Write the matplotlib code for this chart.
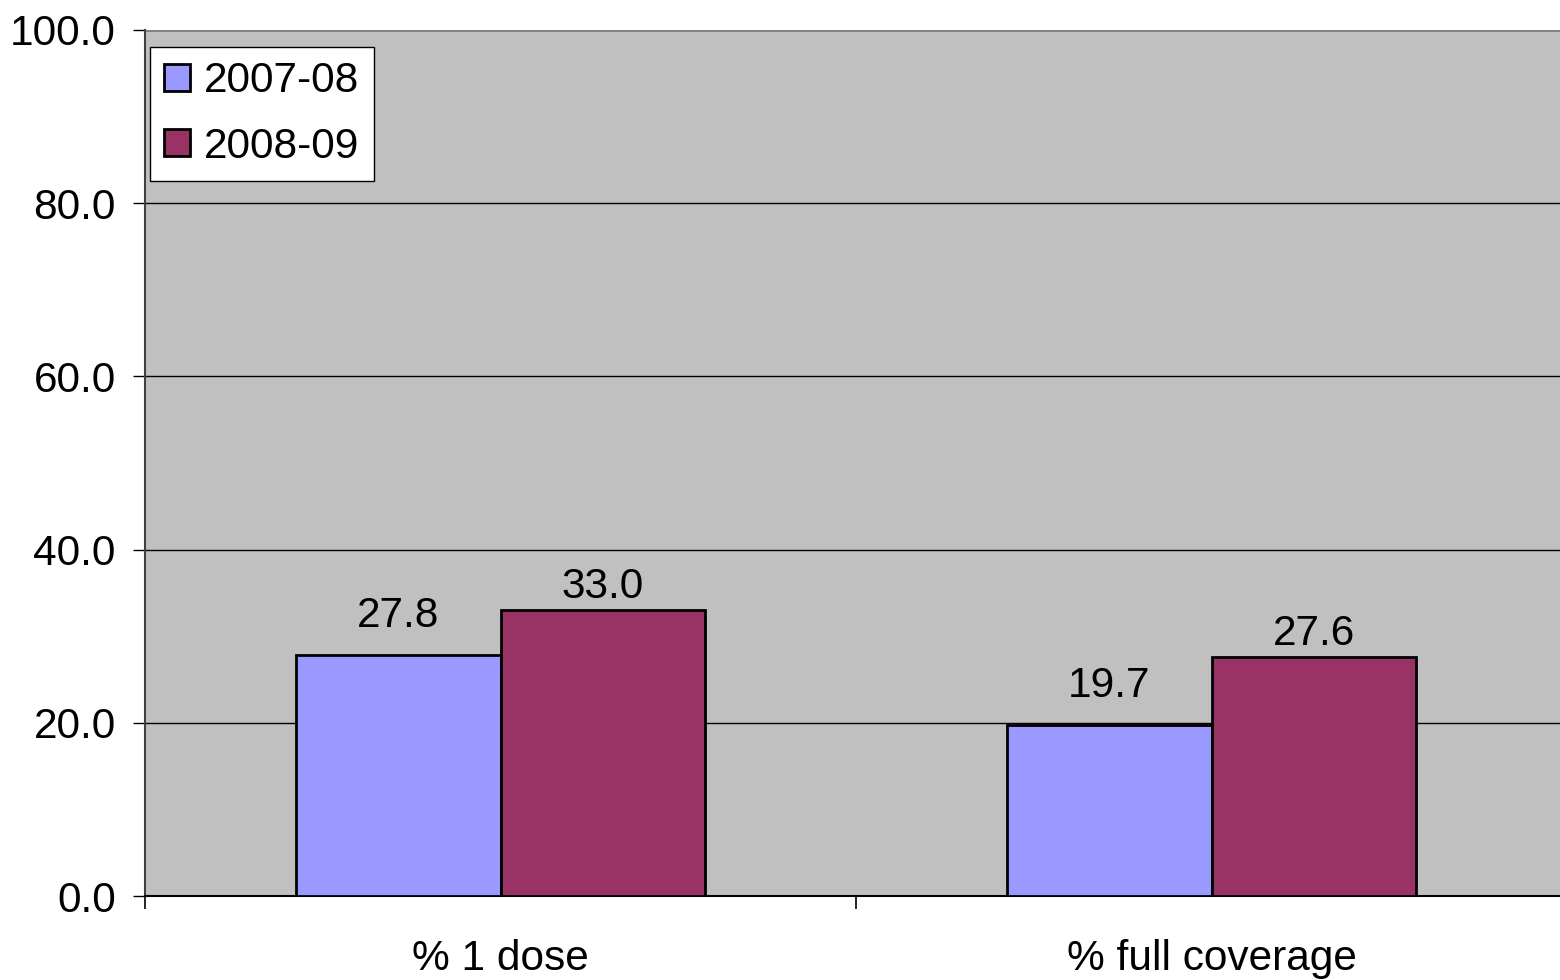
import matplotlib.pyplot as plt
import numpy as np

plt.rcParams['font.family'] = ['Liberation Sans', 'DejaVu Sans']

# 数据
categories = ['% 1 dose', '% full coverage']
years = ['2007-08', '2008-09']
v_2007 = [27.8, 19.7]
v_2008 = [33.0, 27.6]
colors = ['#9999FF', '#993366']

fig = plt.figure(figsize=(15.6, 9.8), dpi=100)
ax = fig.add_axes([145 / 1560, 1 - 896 / 980, 1422 / 1560, 866 / 980])
ax.set_facecolor('#C0C0C0')

x = np.arange(len(categories))
w = 0.287
fs = 30.5
series = [v_2007, v_2008]
label_gap = [3.3, 1.4]  # 标签与柱顶的距离（数据单位）
for i, (vals, c, lab) in enumerate(zip(series, colors, years)):
    pos = x + (i - 0.5) * w
    bars = ax.bar(pos, vals, width=w, color=c, edgecolor='black', linewidth=2,
                  label=lab, zorder=3)
    for b, v in zip(bars, vals):
        ax.text(b.get_x() + b.get_width() / 2, v + label_gap[i], f'{v:.1f}',
                ha='center', va='baseline', fontsize=fs, zorder=4)

# 坐标轴
ax.set_xlim(-0.5, len(categories) - 0.5)
ax.set_ylim(0, 100)
ax.set_yticks(np.arange(0, 101, 20))
ax.set_yticklabels([f'{t:.1f}' for t in np.arange(0, 101, 20)], fontsize=fs)
ax.yaxis.grid(True, color='black', linewidth=1, zorder=1)
ax.set_axisbelow(True)

ax.set_xticks(x)
ax.set_xticklabels(categories, fontsize=fs)
ax.tick_params(axis='x', which='major', length=0, pad=31)
ax.set_xticks(np.arange(-0.5, len(categories)), minor=True)
ax.tick_params(axis='x', which='minor', length=9, width=1.2, color='black')
ax.tick_params(axis='y', length=9, width=1, color='black', pad=12)

for s in ['top', 'right']:
    ax.spines[s].set_visible(False)
ax.spines['left'].set_color('#404040')
ax.spines['left'].set_linewidth(1.5)
ax.spines['bottom'].set_color('black')
ax.spines['bottom'].set_linewidth(1.5)
ax.axhline(100, color='#808080', linewidth=2, zorder=2)

leg = ax.legend(loc='upper left', bbox_to_anchor=(5 / 1422, 1 - 17 / 866),
                fontsize=fs, frameon=True, fancybox=False, framealpha=1,
                edgecolor='black', handlelength=0.6, handleheight=0.6,
                handletextpad=0.33, borderpad=0.34, labelspacing=0.6,
                borderaxespad=0)
leg.get_frame().set_linewidth(1)
for h in leg.legend_handles:
    h.set_linewidth(2)

fig.savefig('out.png', dpi=100)
